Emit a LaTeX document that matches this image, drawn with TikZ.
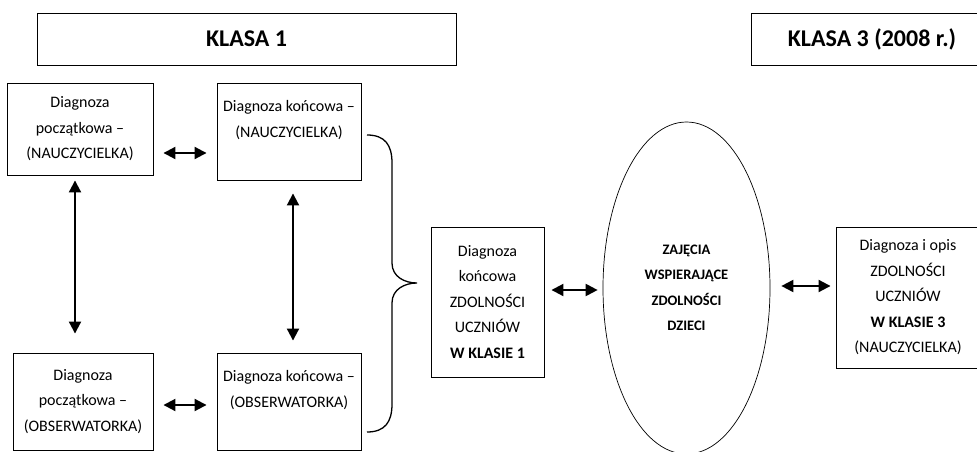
\documentclass[tikz,border=0pt]{standalone}
\usepackage{fontspec}
\setmainfont{Carlito}
\usetikzlibrary{arrows.meta,shapes.geometric}
\begin{document}
\begin{tikzpicture}[x=1pt,y=-1pt,
  framebox/.style={draw, line width=0.9pt, inner sep=0pt, align=center, font=\fontsize{16}{25.5}\selectfont},
  titlebox/.style={draw, line width=0.9pt, inner sep=0pt, font=\fontsize{24}{28}\bfseries\selectfont},
  link/.style={line width=2pt, {Triangle[length=12pt,width=12pt]}-{Triangle[length=12pt,width=12pt]}}]
\useasboundingbox (0,0) rectangle (977,452);
\node[titlebox, minimum width=419pt, minimum height=52pt] (klasa1) at (246.5,39) {KLASA 1};
\node[titlebox, minimum width=242pt, minimum height=52pt] (klasa3) at (872,39) {KLASA 3 (2008 r.)};
\node[framebox, minimum width=146pt, minimum height=92pt] (pocznau) at (80,129) {Diagnoza\\początkowa –\\(NAUCZYCIELKA)};
\node[framebox, minimum width=144pt, minimum height=97pt] (konnau) at (289,131.5) {Diagnoza końcowa –\\(NAUCZYCIELKA)\\\mbox{}};
\node[framebox, minimum width=140pt, minimum height=97pt] (poczobs) at (83,401.5) {Diagnoza\\początkowa –\\(OBSERWATORKA)};
\node[framebox, minimum width=144pt, minimum height=97pt] (konobs) at (289,401.5) {Diagnoza końcowa –\\(OBSERWATORKA)\\\mbox{}};
\node[framebox, minimum width=113pt, minimum height=150pt] (klasa1diag) at (487.5,302) {Diagnoza\\końcowa\\ZDOLNOŚCI\\UCZNIÓW\\\textbf{W KLASIE 1}};
\node[ellipse, draw, line width=0.7pt, inner sep=0pt, minimum width=167pt, minimum height=332pt, align=center, font=\fontsize{14.5}{25.5}\bfseries\selectfont] (zajecia) at (686.5,288) {ZAJĘCIA\\WSPIERAJĄCE\\ZDOLNOŚCI\\DZIECI};
\node[framebox, minimum width=144pt, minimum height=141pt] (klasa3diag) at (908,297.5) {Diagnoza i opis\\ZDOLNOŚCI\\UCZNIÓW\\\textbf{W KLASIE 3}\\(NAUCZYCIELKA)};
\draw[link, shorten <=10pt, shorten >=10pt] (pocznau.east |- 0,153) -- (konnau.west |- 0,153);
\draw[link, shorten <=10pt, shorten >=10pt] (poczobs.east |- 0,405) -- (konobs.west |- 0,405);
\draw[link, shorten <=5pt, shorten >=19pt] (75,0 |- pocznau.south) -- (75,0 |- poczobs.north);
\draw[link, shorten <=13pt, shorten >=12pt] (293,0 |- konnau.south) -- (293,0 |- konobs.north);
\draw[link, shorten <=7pt, shorten >=5pt] (klasa1diag.east |- 0,290) -- (zajecia.west |- 0,290);
\draw[link, shorten <=11pt, shorten >=5pt] (zajecia.east |- 0,286) -- (klasa3diag.west |- 0,286);
\coordinate (bracetop) at (367,135);
\draw[line width=1.3pt] (bracetop) .. controls +(18,0) and +(0,-18) .. ++(25,28) -- ++(0,100)
  .. controls +(0,14) and +(-12,0) .. ++(25,20) .. controls +(-12,0) and +(0,-14) .. ++(-25,20)
  -- ++(0,101) .. controls +(0,18) and +(18,0) .. ++(-25,28) coordinate (bracebot);
\end{tikzpicture}
\end{document}
